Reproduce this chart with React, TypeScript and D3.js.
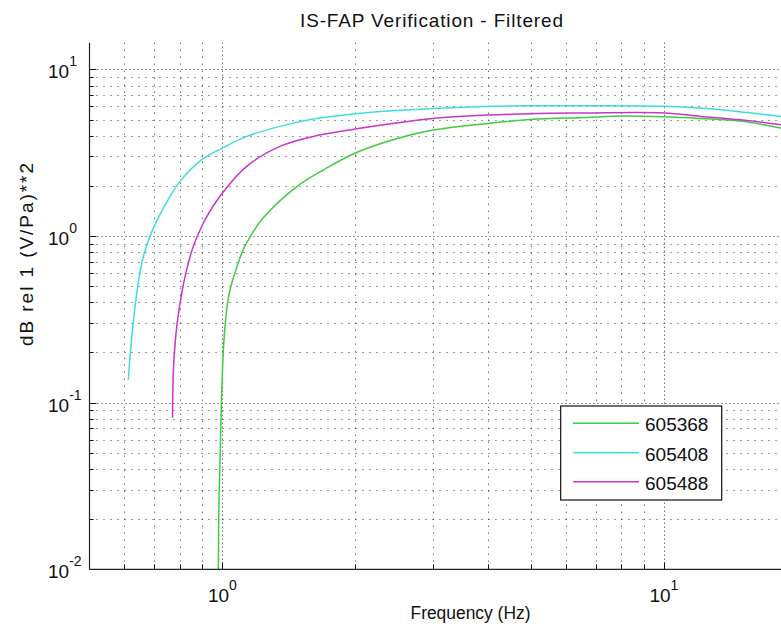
import React from "react";
import * as d3 from "d3";

// Frequency response of three sensors (log-log)
const seriesNames = ["605368", "605408", "605488"];
const seriesColors = ["#3fcc3f", "#3fdcdc", "#cc33cc"];

const freq605368 = [0.979, 0.9824, 0.989, 0.995, 1.0005, 1.0084, 1.0227, 1.0405, 1.0774, 1.115, 1.175, 1.229, 1.474, 1.71, 2.0, 2.49, 3.0, 4.0, 5.0, 6.7, 8.0, 10, 12.1, 14.9, 18.5, 20];
const vals605368 = [0.0098, 0.0262, 0.0522, 0.104, 0.158, 0.239, 0.361, 0.476, 0.646, 0.828, 1.061, 1.26, 1.98, 2.53, 3.15, 3.85, 4.32, 4.74, 5.01, 5.15, 5.25, 5.2, 5.08, 4.9, 4.43, 4.25];

const freq605408 = [0.612, 0.621, 0.631, 0.644, 0.661, 0.686, 0.716, 0.753, 0.801, 0.898, 1.0, 1.135, 1.35, 1.606, 2.0, 2.48, 3.89, 5.0, 7.0, 10, 12.9, 15.4, 18.4, 20];
const vals605408 = [0.137, 0.223, 0.337, 0.51, 0.741, 1.004, 1.29, 1.65, 2.12, 2.87, 3.37, 3.96, 4.55, 5.03, 5.42, 5.67, 5.99, 6.05, 6.05, 6.0, 5.78, 5.51, 5.22, 5.05];

const freq605488 = [0.771, 0.774, 0.781, 0.79, 0.809, 0.83, 0.859, 0.898, 0.913, 1.0, 1.135, 1.35, 1.606, 2.0, 2.48, 3.06, 4.98, 6.7, 10, 12.1, 14.9, 18.4, 20];
const vals605488 = [0.0813, 0.151, 0.223, 0.301, 0.455, 0.628, 0.866, 1.14, 1.25, 1.81, 2.62, 3.45, 3.96, 4.38, 4.76, 5.1, 5.42, 5.47, 5.47, 5.22, 4.98, 4.65, 4.5];

const xDecades = [1, 10];
const yDecades = [0.01, 0.1, 1, 10];

const W = 781;
const H = 635;
const FONT = "'Liberation Sans', Arial, Helvetica, sans-serif";

const left = 89.5;
const right = 796.8;
const top = 42.7;
const bottom = 569.3;

const x = d3.scaleLog().domain([0.5, 20]).range([left, right]);
const y = d3.scaleLog().domain([0.01, Math.pow(10, 1.16)]).range([bottom, top]);

function minorTicks(lo: number, hi: number): number[] {
  const out: number[] = [];
  for (let e = -3; e <= 2; e++) {
    for (let m = 1; m <= 9; m++) {
      const v = m * Math.pow(10, e);
      if (v > lo * 1.0001 && v <= hi * 1.0001) out.push(v);
    }
  }
  return out;
}

const xGrid = minorTicks(0.5, 20);
const yGrid = minorTicks(0.01, Math.pow(10, 1.16));
const isDecade = (v: number) => Math.abs(Math.log10(v) - Math.round(Math.log10(v))) < 1e-6;

const series = [
  { name: seriesNames[0], color: seriesColors[0], f: freq605368, v: vals605368 },
  { name: seriesNames[1], color: seriesColors[1], f: freq605408, v: vals605408 },
  { name: seriesNames[2], color: seriesColors[2], f: freq605488, v: vals605488 },
];

const line = d3
  .line<[number, number]>()
  .x((d) => x(d[0]))
  .y((d) => y(d[1]))
  .curve(d3.curveCatmullRom.alpha(0.5));

export default function App() {
  const legendX = 560.7;
  const legendY = 406;
  const legendW = 161;
  const legendH = 94;
  const rowY = [423.3, 452.7, 481.7];

  return (
    <svg
      width={W}
      height={H}
      style={{ position: "absolute", left: 0, top: 0, background: "#fff" }}
      fontFamily={FONT}
    >
      <defs>
        <clipPath id="plotArea">
          <rect x={left} y={top} width={right - left} height={bottom - top} />
        </clipPath>
      </defs>
      <rect x={0} y={0} width={W} height={H} fill="#fff" />

      {/* grid */}
      <g stroke="#333" strokeWidth={1} fill="none">
        {yGrid.map((v, i) => (
          <line
            key={"gy" + i}
            x1={left}
            x2={right}
            y1={Math.round(y(v)) + 0.5}
            y2={Math.round(y(v)) + 0.5}
            strokeDasharray={isDecade(v) ? "1,3" : "1,6"}
          />
        ))}
        {xGrid.map((v, i) => (
          <line
            key={"gx" + i}
            x1={Math.round(x(v)) + 0.5}
            x2={Math.round(x(v)) + 0.5}
            y1={top}
            y2={bottom}
            strokeDasharray={isDecade(v) ? "1,3" : "1,6"}
          />
        ))}
      </g>

      {/* tick marks */}
      <g stroke="#111" strokeWidth={1}>
        {yGrid.concat([0.01]).map((v, i) => (
          <line
            key={"ty" + i}
            x1={left}
            x2={left + (isDecade(v) ? 7 : 4)}
            y1={Math.round(y(v)) + 0.5}
            y2={Math.round(y(v)) + 0.5}
          />
        ))}
        {xGrid.map((v, i) => (
          <line
            key={"tx" + i}
            x1={Math.round(x(v)) + 0.5}
            x2={Math.round(x(v)) + 0.5}
            y1={bottom}
            y2={bottom - (isDecade(v) ? 7 : 5)}
          />
        ))}
      </g>

      {/* curves */}
      <g clipPath="url(#plotArea)" fill="none">
        {series.map((s) => (
          <path
            key={s.name}
            d={line(s.f.map((f, i) => [f, s.v[i]] as [number, number])) || ""}
            stroke={s.color}
            strokeWidth={1.5}
          />
        ))}
      </g>

      {/* axes */}
      <g stroke="#222" strokeWidth={1.2}>
        <line x1={left} x2={left} y1={top} y2={bottom} />
        <line x1={left} x2={right} y1={bottom} y2={bottom} />
      </g>

      {/* y tick labels */}
      <g fill="#111" fontSize={19}>
        {yDecades.map((v) => (
          <text key={"yl" + v} x={48} y={y(v) + 9}>
            10
            <tspan fontSize={14} dy={-12}>
              {String(Math.round(Math.log10(v)))}
            </tspan>
          </text>
        ))}
      </g>

      {/* x tick labels */}
      <g fill="#111" fontSize={19}>
        {xDecades.map((v) => (
          <text key={"xl" + v} x={x(v)} y={601.7} textAnchor="middle">
            10
            <tspan fontSize={14} dy={-12}>
              {String(Math.round(Math.log10(v)))}
            </tspan>
          </text>
        ))}
      </g>

      {/* title and axis labels */}
      <text x={431.5} y={27} textAnchor="middle" fontSize={19} fill="#111" textLength={263} lengthAdjust="spacing">
        IS-FAP Verification - Filtered
      </text>
      <text x={470.5} y={619} textAnchor="middle" fontSize={18} fill="#111" textLength={120} lengthAdjust="spacingAndGlyphs">
        Frequency (Hz)
      </text>
      <text
        transform="translate(33,254.5) rotate(-90)"
        textAnchor="middle"
        fontSize={19}
        fill="#111"
        textLength={183}
        lengthAdjust="spacing"
      >
        dB rel 1 (V/Pa)**2
      </text>

      {/* legend */}
      <g>
        <rect x={legendX} y={legendY} width={legendW} height={legendH} fill="#fff" stroke="#111" strokeWidth={1.2} />
        {series.map((s, i) => (
          <g key={"lg" + s.name}>
            <line x1={573} x2={639} y1={rowY[i]} y2={rowY[i]} stroke={s.color} strokeWidth={1.5} />
            <text x={645} y={rowY[i] + 8} fontSize={19} fill="#111">
              {s.name}
            </text>
          </g>
        ))}
      </g>
    </svg>
  );
}
